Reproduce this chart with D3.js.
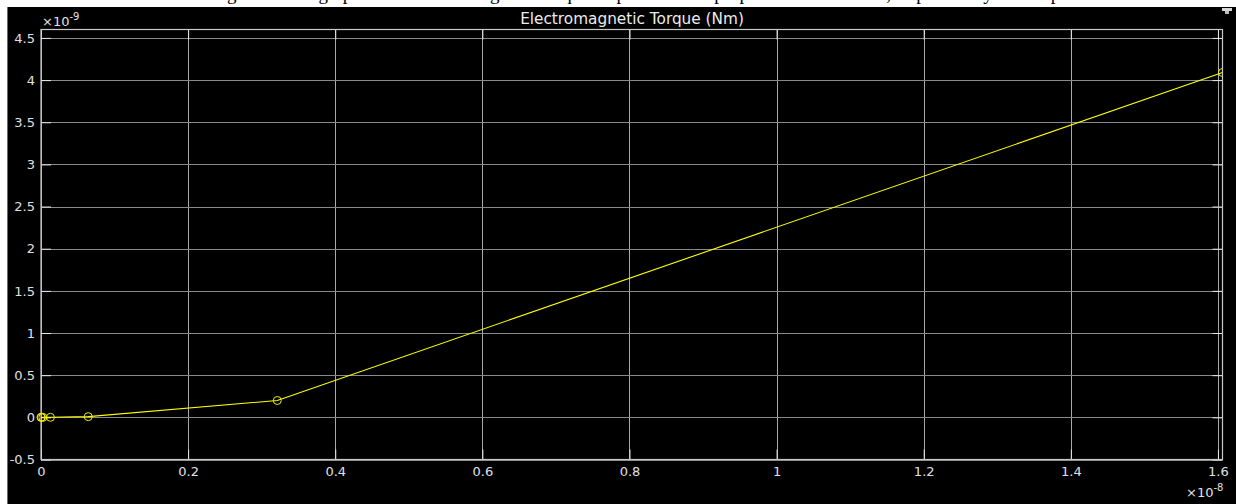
<!DOCTYPE html>
<html>
<head>
<meta charset="utf-8">
<script src="https://cdn.jsdelivr.net/npm/d3@7/dist/d3.min.js"></script>
<style>
  html, body { margin: 0; padding: 0; background: #ffffff; }
  svg { display: block; }
</style>
</head>
<body>
<svg id="chart" width="1236" height="504"></svg>
<script>
// Simulation time samples (s) and electromagnetic torque (Nm)
const timeSeconds = [0, 5.1e-12, 2.57e-11, 1.285e-10, 6.42e-10, 3.212e-9, 1.6062e-8];
const torqueNm    = [0, 0, 0.00003e-9, 0.0005e-9, 0.008e-9, 0.2e-9, 4.09e-9];

const xTicks = [0, 0.2e-8, 0.4e-8, 0.6e-8, 0.8e-8, 1.0e-8, 1.2e-8, 1.4e-8, 1.6e-8];
const xTickLabels = ["0", "0.2", "0.4", "0.6", "0.8", "1", "1.2", "1.4", "1.6"];
const yTicks = [-0.5e-9, 0, 0.5e-9, 1e-9, 1.5e-9, 2e-9, 2.5e-9, 3e-9, 3.5e-9, 4e-9, 4.5e-9];
const yTickLabels = ["-0.5", "0", "0.5", "1", "1.5", "2", "2.5", "3", "3.5", "4", "4.5"];

const svg = d3.select("#chart");
const W = 1236, H = 504;
const plot = { left: 41, top: 29.5, right: 1222.5, bottom: 459.5 };

// Caption line of the surrounding document, mostly above the frame
svg.append("text")
  .attr("x", 640).attr("y", 0)
  .attr("text-anchor", "middle")
  .attr("font-family", "Liberation Serif, serif")
  .attr("font-size", 19)
  .attr("fill", "#000")
  .text("Figure 9. The graph of the electromagnetic torque response of the proposed motor model, as plotted by the scope");

// Scope window background
svg.append("rect").attr("x", 8).attr("y", 7).attr("width", W - 8).attr("height", H - 7).attr("fill", "#000");
svg.append("line").attr("x1", 7.5).attr("x2", 7.5).attr("y1", 7).attr("y2", H)
  .attr("stroke", "#6a6a6a").attr("stroke-width", 1);

// Title
svg.append("text")
  .attr("x", 632).attr("y", 23.5)
  .attr("text-anchor", "middle")
  .attr("font-family", "DejaVu Sans, sans-serif")
  .attr("font-size", 15.3)
  .attr("fill", "#ececec")
  .text("Electromagnetic Torque (Nm)");

// Undock icon at the top right
const icon = svg.append("g").attr("transform", "translate(1222,8)");
icon.append("rect").attr("x", 0).attr("y", 0).attr("width", 10).attr("height", 3).attr("fill", "#d8d8d8");
icon.append("rect").attr("x", 3).attr("y", 3).attr("width", 4).attr("height", 3).attr("fill", "#bdbdbd");

const x = d3.scaleLinear().domain([0, timeSeconds[timeSeconds.length - 1]]).range([plot.left, plot.right]);
const y = d3.scaleLinear().domain([-0.5e-9, 4.6e-9]).range([plot.bottom, plot.top]);

// Grid
const grid = svg.append("g");
grid.selectAll("line.v").data(xTicks).join("line")
  .attr("x1", d => Math.round(x(d)) + 0.5).attr("x2", d => Math.round(x(d)) + 0.5)
  .attr("y1", plot.top).attr("y2", plot.bottom)
  .attr("stroke", "#a8a8a8").attr("stroke-width", 1);
grid.selectAll("line.h").data(yTicks).join("line")
  .attr("x1", plot.left).attr("x2", plot.right)
  .attr("y1", d => Math.round(y(d)) + 0.5).attr("y2", d => Math.round(y(d)) + 0.5)
  .attr("stroke", "#8a8a8a").attr("stroke-width", 1);

// Axes: labels outside, ticks pointing inward on all four sides
const fmtX = (d, i) => xTickLabels[i];
const fmtY = (d, i) => yTickLabels[i];
const styleAxis = g => {
  g.select(".domain").remove();
  g.selectAll(".tick line").attr("stroke", "#e8e8e8");
  g.selectAll(".tick text").attr("fill", "#e0e0e0")
    .attr("font-family", "DejaVu Sans, sans-serif").attr("font-size", 13);
};
svg.append("g").attr("transform", `translate(0,${plot.bottom})`)
  .call(d3.axisBottom(x).tickValues(xTicks).tickFormat(fmtX).tickSizeInner(-10).tickSizeOuter(0).tickPadding(7))
  .call(styleAxis);
svg.append("g").attr("transform", `translate(${plot.left},0)`)
  .call(d3.axisLeft(y).tickValues(yTicks).tickFormat(fmtY).tickSizeInner(-10).tickSizeOuter(0).tickPadding(6))
  .call(styleAxis);
svg.append("g").attr("transform", `translate(0,${plot.top})`)
  .call(d3.axisTop(x).tickValues(xTicks).tickFormat("").tickSizeInner(-10).tickSizeOuter(0))
  .call(styleAxis);
svg.append("g").attr("transform", `translate(${plot.right},0)`)
  .call(d3.axisRight(y).tickValues(yTicks).tickFormat("").tickSizeInner(-10).tickSizeOuter(0))
  .call(styleAxis);

// Plot frame
svg.append("rect")
  .attr("x", plot.left).attr("y", plot.top)
  .attr("width", plot.right - plot.left).attr("height", plot.bottom - plot.top)
  .attr("fill", "none").attr("stroke", "#c8c8c8").attr("stroke-width", 1.2);

// Exponent labels
const expo = (px, py, exp) => {
  const t = svg.append("text").attr("x", px).attr("y", py)
    .attr("font-family", "DejaVu Sans, sans-serif").attr("font-size", 13).attr("fill", "#e0e0e0");
  t.append("tspan").text("\u00d710");
  t.append("tspan").attr("dy", -6).attr("font-size", 10).text(exp);
};
expo(42, 25.5, "-9");
expo(1186, 497, "-8");

// Torque trace
const pts = timeSeconds.map((t, i) => [t, torqueNm[i]]);
svg.append("clipPath").attr("id", "plotClip").append("rect")
  .attr("x", plot.left - 6).attr("y", plot.top).attr("width", plot.right - plot.left + 6).attr("height", plot.bottom - plot.top);
const trace = svg.append("g").attr("clip-path", "url(#plotClip)");
trace.append("path")
  .datum(pts)
  .attr("d", d3.line().x(d => x(d[0])).y(d => y(d[1])))
  .attr("fill", "none").attr("stroke", "#ffff00").attr("stroke-width", 1.1);
trace.selectAll("circle").data(pts).join("circle")
  .attr("cx", d => x(d[0])).attr("cy", d => y(d[1])).attr("r", 4)
  .attr("fill", "none").attr("stroke", "#eeee00").attr("stroke-width", 1);
</script>
</body>
</html>
